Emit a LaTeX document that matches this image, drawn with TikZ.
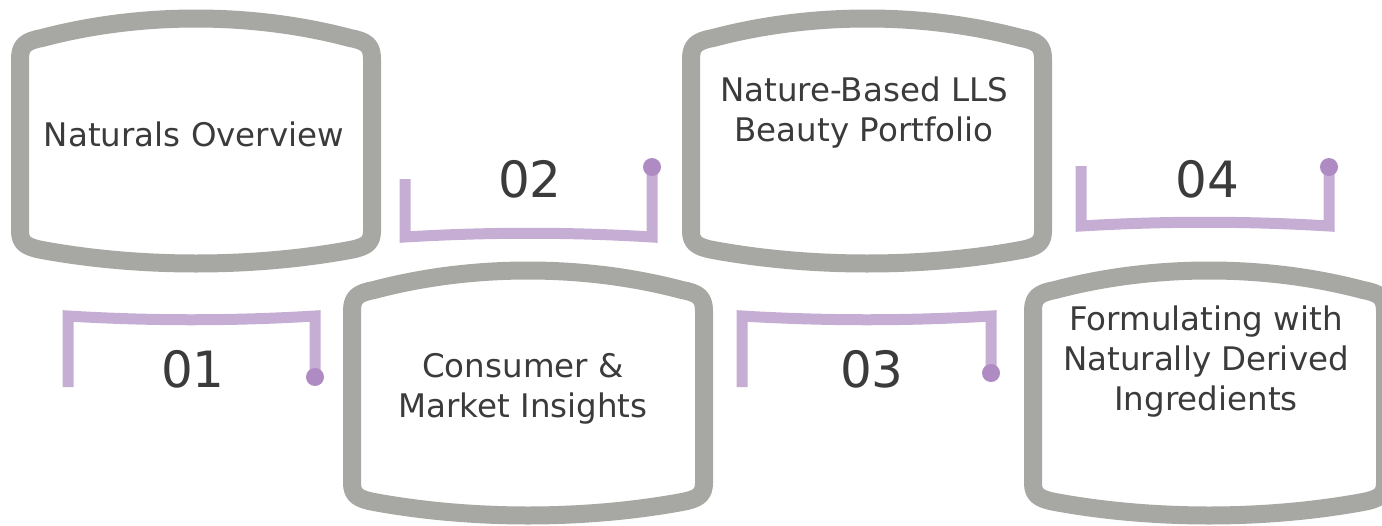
\documentclass[tikz,border=0pt]{standalone}
\usepackage{fontspec}
\setmainfont{DejaVu Sans}
\usepackage{tikz}
\definecolor{panelgrey}{RGB}{167,167,163}
\definecolor{bracketlilac}{RGB}{197,173,212}
\definecolor{dotlilac}{RGB}{174,139,195}
\definecolor{inkgrey}{RGB}{59,59,59}

\begin{document}
\begin{tikzpicture}%
        [x=1pt, y=-1pt,
        panel/.style={draw=panelgrey, line width=18pt, line join=round, fill=white},
        bracket/.style={draw=bracketlilac, line width=11pt},
        enddot/.style={fill=dotlilac},
        title/.style={text=inkgrey, align=center, inner sep=0pt, font=\fontsize{32.5}{40}\selectfont},
        number/.style={text=inkgrey, anchor=base, inner sep=0pt, font=\fontsize{50}{60}\selectfont}]

    \useasboundingbox (0,0) rectangle (1382,525);
    %% Drawing the panels
    \draw[panel, shift={(20,17)}] (0,42) .. controls (0,28) and (6,24) .. (22,21)
        .. controls (120,-5) and (232,-5) .. (330,21) .. controls (346,24) and (352,28) .. (352,42)
        -- (352,214) .. controls (352,226) and (346,230) .. (330,233)
        .. controls (232,251) and (120,251) .. (22,233) .. controls (6,230) and (0,226) .. (0,214) -- cycle;
    \draw[panel, shift={(352,269)}] (0,42) .. controls (0,28) and (6,24) .. (22,21)
        .. controls (120,-5) and (232,-5) .. (330,21) .. controls (346,24) and (352,28) .. (352,42)
        -- (352,214) .. controls (352,226) and (346,230) .. (330,233)
        .. controls (232,251) and (120,251) .. (22,233) .. controls (6,230) and (0,226) .. (0,214) -- cycle;
    \draw[panel, shift={(691,17)}] (0,42) .. controls (0,28) and (6,24) .. (22,21)
        .. controls (120,-5) and (232,-5) .. (330,21) .. controls (346,24) and (352,28) .. (352,42)
        -- (352,214) .. controls (352,226) and (346,230) .. (330,233)
        .. controls (232,251) and (120,251) .. (22,233) .. controls (6,230) and (0,226) .. (0,214) -- cycle;
    \draw[panel, shift={(1033,269)}] (0,42) .. controls (0,28) and (6,24) .. (22,21)
        .. controls (120,-5) and (232,-5) .. (330,21) .. controls (346,24) and (352,28) .. (352,42)
        -- (352,214) .. controls (352,226) and (346,230) .. (330,233)
        .. controls (232,251) and (120,251) .. (22,233) .. controls (6,230) and (0,226) .. (0,214) -- cycle;
    %%
    %% Drawing the brackets
    %%
    \coordinate (dot1) at (315,377);
    \coordinate (dot2) at (652,167);
    \coordinate (dot3) at (991,373);
    \coordinate (dot4) at (1329,167);
    \draw[bracket] (68,387) -- (68,316) .. controls (150,321) and (233,321) .. (315,316) -- (dot1);
    \draw[bracket] (405,179) -- (405,237) .. controls (488,232) and (570,232) .. (652,237) -- (dot2);
    \draw[bracket] (742,387) -- (742,316) .. controls (825,321) and (909,321) .. (991,316) -- (dot3);
    \draw[bracket] (1081,166) -- (1081,226) .. controls (1164,221) and (1247,221) .. (1329,226) -- (dot4);
    \fill[enddot] (dot1) circle (9);
    \fill[enddot] (dot2) circle (9);
    \fill[enddot] (dot3) circle (9);
    \fill[enddot] (dot4) circle (9);
    %%
    %% Drawing the labels
    %%
    \node[title, anchor=base] (overview) at (194,146) {Naturals Overview};
    \node[title] (insights) at (523,389) {Consumer \&\\Market Insights};
    \node[title] (portfolio) at (864,113) {Nature-Based LLS\\Beauty Portfolio};
    \node[title] (formulating) at (1206,362) {Formulating with\\Naturally Derived\\Ingredients};
    \node[number] (num1) at (193,387) {01};
    \node[number] (num2) at (530,197) {02};
    \node[number] (num3) at (872,387) {03};
    \node[number] (num4) at (1207,197) {04};
    %%
    %%
\end{tikzpicture}
\end{document}
